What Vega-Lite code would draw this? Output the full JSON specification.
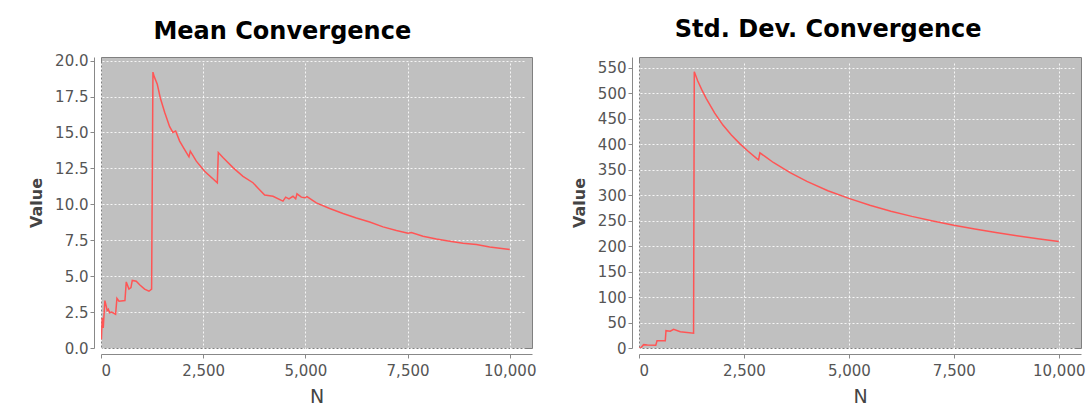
{
  "$schema": "https://vega.github.io/schema/vega-lite/v6.json",
  "background": "white",
  "padding": {"left": 28, "top": 17, "right": 4, "bottom": 4},
  "spacing": 33,
  "datasets": {
    "mean": [
      {"n": 1, "value": 1.3}, {"n": 10, "value": 0.6}, {"n": 30, "value": 2.1}, {"n": 55, "value": 1.4},
      {"n": 95, "value": 3.3}, {"n": 130, "value": 2.9}, {"n": 150, "value": 2.6}, {"n": 180, "value": 2.7},
      {"n": 210, "value": 2.45}, {"n": 260, "value": 2.5}, {"n": 357, "value": 2.35}, {"n": 390, "value": 3.45},
      {"n": 440, "value": 3.25}, {"n": 586, "value": 3.3}, {"n": 618, "value": 4.6}, {"n": 684, "value": 4.1},
      {"n": 733, "value": 4.2}, {"n": 765, "value": 4.7}, {"n": 863, "value": 4.65}, {"n": 945, "value": 4.4},
      {"n": 1067, "value": 4.1}, {"n": 1173, "value": 3.95}, {"n": 1238, "value": 4.1}, {"n": 1271, "value": 19.2},
      {"n": 1300, "value": 18.9}, {"n": 1377, "value": 18.35}, {"n": 1451, "value": 17.4}, {"n": 1557, "value": 16.4},
      {"n": 1679, "value": 15.4}, {"n": 1760, "value": 15.0}, {"n": 1826, "value": 15.1}, {"n": 1924, "value": 14.4},
      {"n": 2046, "value": 13.8}, {"n": 2152, "value": 13.3}, {"n": 2185, "value": 13.7}, {"n": 2332, "value": 13.0},
      {"n": 2535, "value": 12.3}, {"n": 2846, "value": 11.5}, {"n": 2870, "value": 13.6}, {"n": 2984, "value": 13.25},
      {"n": 3229, "value": 12.55}, {"n": 3474, "value": 11.95}, {"n": 3718, "value": 11.5}, {"n": 3850, "value": 11.1},
      {"n": 4004, "value": 10.65}, {"n": 4045, "value": 10.63}, {"n": 4208, "value": 10.56}, {"n": 4452, "value": 10.22},
      {"n": 4518, "value": 10.5}, {"n": 4599, "value": 10.38}, {"n": 4697, "value": 10.56}, {"n": 4763, "value": 10.38},
      {"n": 4795, "value": 10.73}, {"n": 4902, "value": 10.5}, {"n": 4983, "value": 10.45}, {"n": 5040, "value": 10.54},
      {"n": 5269, "value": 10.1}, {"n": 5595, "value": 9.71}, {"n": 5921, "value": 9.36}, {"n": 6248, "value": 9.05},
      {"n": 6574, "value": 8.77}, {"n": 6900, "value": 8.43}, {"n": 7227, "value": 8.17}, {"n": 7511, "value": 7.98},
      {"n": 7594, "value": 8.03}, {"n": 7878, "value": 7.78}, {"n": 8206, "value": 7.59}, {"n": 8532, "value": 7.43},
      {"n": 8857, "value": 7.29}, {"n": 9185, "value": 7.2}, {"n": 9511, "value": 7.03}, {"n": 10000, "value": 6.85}
    ],
    "sd": [
      {"n": 1, "value": 0}, {"n": 40, "value": 0}, {"n": 110, "value": 6.6}, {"n": 200, "value": 6},
      {"n": 400, "value": 5.5}, {"n": 429, "value": 14}, {"n": 626, "value": 14}, {"n": 643, "value": 34},
      {"n": 745, "value": 33}, {"n": 824, "value": 36.5}, {"n": 983, "value": 32}, {"n": 1300, "value": 29},
      {"n": 1317, "value": 542}, {"n": 1400, "value": 524}, {"n": 1500, "value": 506}, {"n": 1600, "value": 490},
      {"n": 1800, "value": 461.5}, {"n": 2000, "value": 437.4}, {"n": 2200, "value": 418}, {"n": 2400, "value": 401},
      {"n": 2600, "value": 386}, {"n": 2800, "value": 372}, {"n": 2848, "value": 369}, {"n": 2880, "value": 383},
      {"n": 3000, "value": 376}, {"n": 3200, "value": 364}, {"n": 3600, "value": 344}, {"n": 4000, "value": 327},
      {"n": 4500, "value": 308.6}, {"n": 5000, "value": 293.6}, {"n": 5500, "value": 280}, {"n": 6000, "value": 268.5},
      {"n": 6500, "value": 258.3}, {"n": 7000, "value": 249.2}, {"n": 7500, "value": 241}, {"n": 8000, "value": 233.4},
      {"n": 8500, "value": 226.6}, {"n": 9000, "value": 220.3}, {"n": 9500, "value": 214.4}, {"n": 10000, "value": 209}
    ]
  },
  "hconcat": [
    {
      "title": {"text": "Mean Convergence", "offset": 10},
      "width": 431,
      "height": 291,
      "data": {"name": "mean"},
      "mark": {"type": "line", "stroke": "#FF5555", "strokeWidth": 1.5, "clip": true},
      "encoding": {
        "x": {"field": "n", "type": "quantitative", "title": "N",
              "scale": {"domain": [0, 10545], "nice": false, "zero": false},
              "axis": {"values": [0, 2500, 5000, 7500, 10000], "format": ",d"}},
        "y": {"field": "value", "type": "quantitative", "title": "Value",
              "scale": {"domain": [0, 20.25], "nice": false},
              "axis": {"values": [0, 2.5, 5, 7.5, 10, 12.5, 15, 17.5, 20], "format": ".1f"}}
      }
    },
    {
      "title": {"text": "Std. Dev. Convergence", "offset": 15},
      "width": 442,
      "height": 291,
      "data": {"name": "sd"},
      "mark": {"type": "line", "stroke": "#FF5555", "strokeWidth": 1.5, "clip": true},
      "encoding": {
        "x": {"field": "n", "type": "quantitative", "title": "N",
              "scale": {"domain": [0, 10530], "nice": false, "zero": false},
              "axis": {"values": [0, 2500, 5000, 7500, 10000], "format": ",d"}},
        "y": {"field": "value", "type": "quantitative", "title": "Value",
              "scale": {"domain": [0, 571], "nice": false},
              "axis": {"values": [0, 50, 100, 150, 200, 250, 300, 350, 400, 450, 500, 550], "format": "d"}}
      }
    }
  ],
  "config": {
    "title": {"font": "DejaVu Sans", "fontSize": 24, "fontWeight": "bold", "color": "#000000", "anchor": "middle", "frame": "bounds"},
    "view": {"fill": "#C0C0C0", "stroke": "#808080", "strokeWidth": 1},
    "axis": {
      "labelFont": "DejaVu Sans", "labelFontSize": 15, "labelColor": "#555555",
      "domainColor": "#888888", "tickColor": "#888888", "tickSize": 4,
      "gridColor": "#FFFFFF", "gridDash": [2, 2], "gridWidth": 1, "gridOpacity": 0.85,
      "titleFont": "DejaVu Sans", "titleColor": "#444444"
    },
    "axisX": {"offset": 6, "labelPadding": 5, "titleFontSize": 19, "titleFontWeight": "normal", "titlePadding": 9},
    "axisY": {"offset": 7, "labelPadding": 2, "titleFontSize": 16, "titleFontWeight": "bold", "titlePadding": 10}
  }
}
